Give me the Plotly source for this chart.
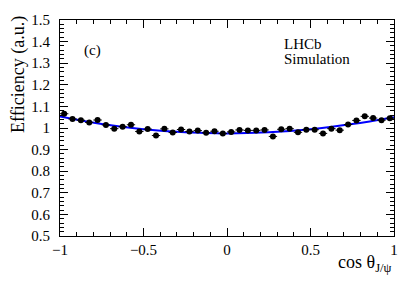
import plotly.graph_objects as go

# Data: 40 bins in cos(theta_J/psi), efficiency values
bin_centers = [-0.975 + 0.05 * i for i in range(40)]
efficiency = [1.066, 1.042, 1.036, 1.026, 1.037, 1.014, 0.997, 1.006, 1.015, 0.984,
              0.995, 0.965, 0.996, 0.979, 0.993, 0.984, 0.988, 0.978, 0.985, 0.974,
              0.982, 0.991, 0.989, 0.989, 0.991, 0.961, 0.994, 0.997, 0.980, 0.992,
              0.992, 0.975, 0.997, 0.990, 1.016, 1.035, 1.054, 1.046, 1.036, 1.045]
eff_err = [0.006] * 40
bin_half_width = [0.025] * 40

# Fitted curve
fit_x = [-1.0, -0.75, -0.5, -0.25, 0.0, 0.25, 0.5, 0.75, 1.0]
fit_y = [1.053, 1.018, 0.994, 0.980, 0.975, 0.980, 0.994, 1.018, 1.050]

x_ticks = [-1, -0.5, 0, 0.5, 1]
x_tick_labels = ["\u22121", "\u22120.5", "0", "0.5", "1"]
y_ticks = [0.5, 0.6, 0.7, 0.8, 0.9, 1.0, 1.1, 1.2, 1.3, 1.4, 1.5]
y_tick_labels = ["0.5", "0.6", "0.7", "0.8", "0.9", "1", "1.1", "1.2", "1.3", "1.4", "1.5"]

font = "Liberation Serif"

fig = go.Figure()
fig.add_trace(go.Scatter(
    x=fit_x, y=fit_y, mode="lines", line=dict(color="#0000ff", width=2, shape="spline"),
    hoverinfo="skip", showlegend=False))
fig.add_trace(go.Scatter(
    x=bin_centers, y=efficiency, mode="markers",
    marker=dict(color="black", size=6, symbol="circle"),
    error_x=dict(type="data", array=bin_half_width, color="black", thickness=1, width=0),
    error_y=dict(type="data", array=eff_err, color="black", thickness=1, width=0),
    showlegend=False))

axis_common = dict(
    showgrid=False, zeroline=False, showline=True, linecolor="black", linewidth=1,
    mirror="allticks", ticks="inside", tickcolor="black", ticklen=8, tickwidth=1,
    tickfont=dict(family=font, size=15, color="black"),
)
fig.update_xaxes(range=[-1, 1], tickvals=x_ticks, ticktext=x_tick_labels,
                 minor=dict(ticks="inside", ticklen=4, dtick=0.1, tickcolor="black"),
                 **axis_common)
fig.update_yaxes(range=[0.5, 1.5], tickvals=y_ticks, ticktext=y_tick_labels,
                 minor=dict(ticks="inside", ticklen=4, dtick=0.02, tickcolor="black"),
                 ticklabelstandoff=6, **axis_common)

fig.add_annotation(text="Efficiency (a.u.)", textangle=-90, xref="paper", yref="paper",
                   x=-0.126, y=1.03, xanchor="center", yanchor="top", showarrow=False,
                   font=dict(family=font, size=18, color="black"))
fig.add_annotation(text="cos \u03b8<sub>J/\u03c8</sub>", xref="paper", yref="paper",
                   x=1.0, y=-0.125, xanchor="right", yanchor="middle", showarrow=False,
                   font=dict(family=font, size=18, color="black"))
fig.add_annotation(text="(c)", xref="paper", yref="paper", x=0.065, y=0.86,
                   xanchor="left", yanchor="middle", showarrow=False,
                   font=dict(family=font, size=15, color="black"))
fig.add_annotation(text="LHCb", xref="paper", yref="paper", x=0.665, y=0.887,
                   xanchor="left", yanchor="middle", showarrow=False,
                   font=dict(family=font, size=15, color="black"))
fig.add_annotation(text="Simulation", xref="paper", yref="paper", x=0.665, y=0.82,
                   xanchor="left", yanchor="middle", showarrow=False,
                   font=dict(family=font, size=15, color="black"))

fig.update_layout(
    width=415, height=281,
    margin=dict(l=60, r=21, t=14, b=45),
    paper_bgcolor="white", plot_bgcolor="white",
    font=dict(family=font, color="black"),
)
fig.write_html(
    "out.html",
    config={"displayModeBar": False},
    post_script="document.body.style.margin='0';document.body.style.overflow='hidden';",
)
